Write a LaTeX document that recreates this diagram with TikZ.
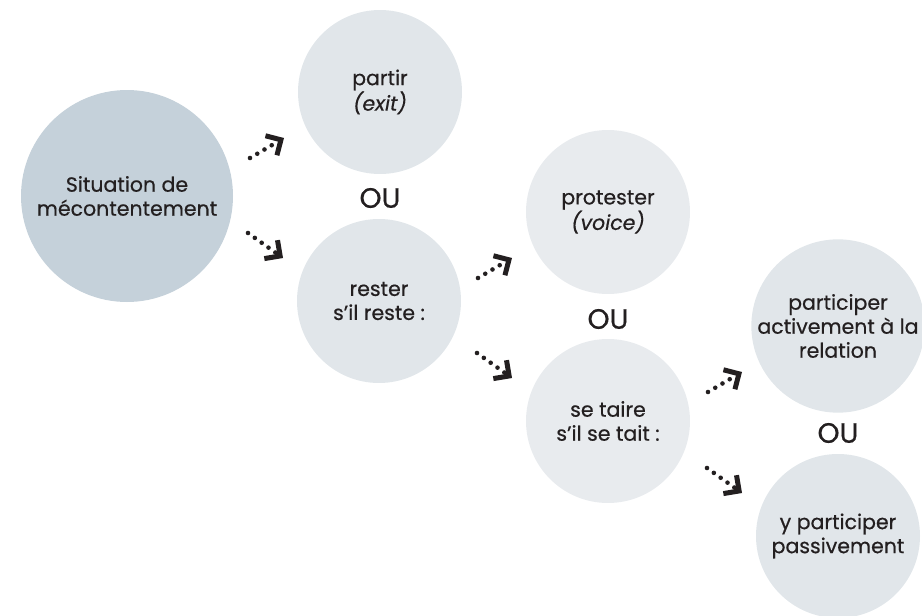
\documentclass[tikz,border=0pt]{standalone}
\usepackage{fontspec}
\setmainfont{Poppins}[FakeBold=0.5]
\usetikzlibrary{arrows.meta}
\definecolor{bigfill}{HTML}{C5D1DA}
\definecolor{sidefill}{HTML}{E1E6EA}
\definecolor{midfill}{HTML}{E8EBEE}
\definecolor{ink}{HTML}{231F20}
\begin{document}
\begin{tikzpicture}[x=1pt,y=-1pt,
  bubble/.style={circle, fill=sidefill, draw=none, inner sep=0pt,
    minimum size=164pt, align=center, text=ink,
    font=\fontsize{20.5}{24}\selectfont},
  bigbubble/.style={bubble, fill=bigfill, minimum size=212pt},
  midbubble/.style={bubble, fill=midfill},
  orword/.style={text=ink, inner sep=0pt, font=\fontsize{28}{32}\selectfont},
  arr/.style={ink, line width=4.6pt, line cap=round,
    dash pattern=on 0pt off 8.4pt,
    -{Straight Barb[angle=90:16pt, line width=5pt]}},
]
\useasboundingbox (0,0) rectangle (922,616);

% the bubbles
\node[bigbubble] (start) at (127,196) {Situation de\\mécontentement};
\node[bubble] (exit) at (380,92) {partir\\\textit{(exit)}};
\node[bubble] (stay) at (379,301) {rester\\s’il reste :};
\node[midbubble] (voice) at (608,212) {protester\\\textit{(voice)}};
\node[midbubble] (silent) at (608,421) {se taire\\s’il se tait :};
\node[bubble] (active) at (838,326) {participer\\activement à la\\relation};
\node[bubble] (passive) at (838,536) {y participer\\passivement};

% the alternatives
\node[orword] (or1) at (380,198) {OU};
\node[orword] (or2) at (608,319) {OU};
\node[orword] (or3) at (838,433) {OU};

% dotted arrows leading to each choice
\draw[arr] ([shift={(-130,66)}]exit.center) -- ([shift={(-96,46)}]exit.center);
\draw[arr] ([shift={(-131,-68)}]stay.center) -- ([shift={(-96,-43)}]stay.center);
\draw[arr] ([shift={(-130,66)}]voice.center) -- ([shift={(-96,46)}]voice.center);
\draw[arr] ([shift={(-131,-68)}]silent.center) -- ([shift={(-96,-43)}]silent.center);
\draw[arr] ([shift={(-130,66)}]active.center) -- ([shift={(-96,46)}]active.center);
\draw[arr] ([shift={(-131,-68)}]passive.center) -- ([shift={(-96,-43)}]passive.center);
\end{tikzpicture}
\end{document}
